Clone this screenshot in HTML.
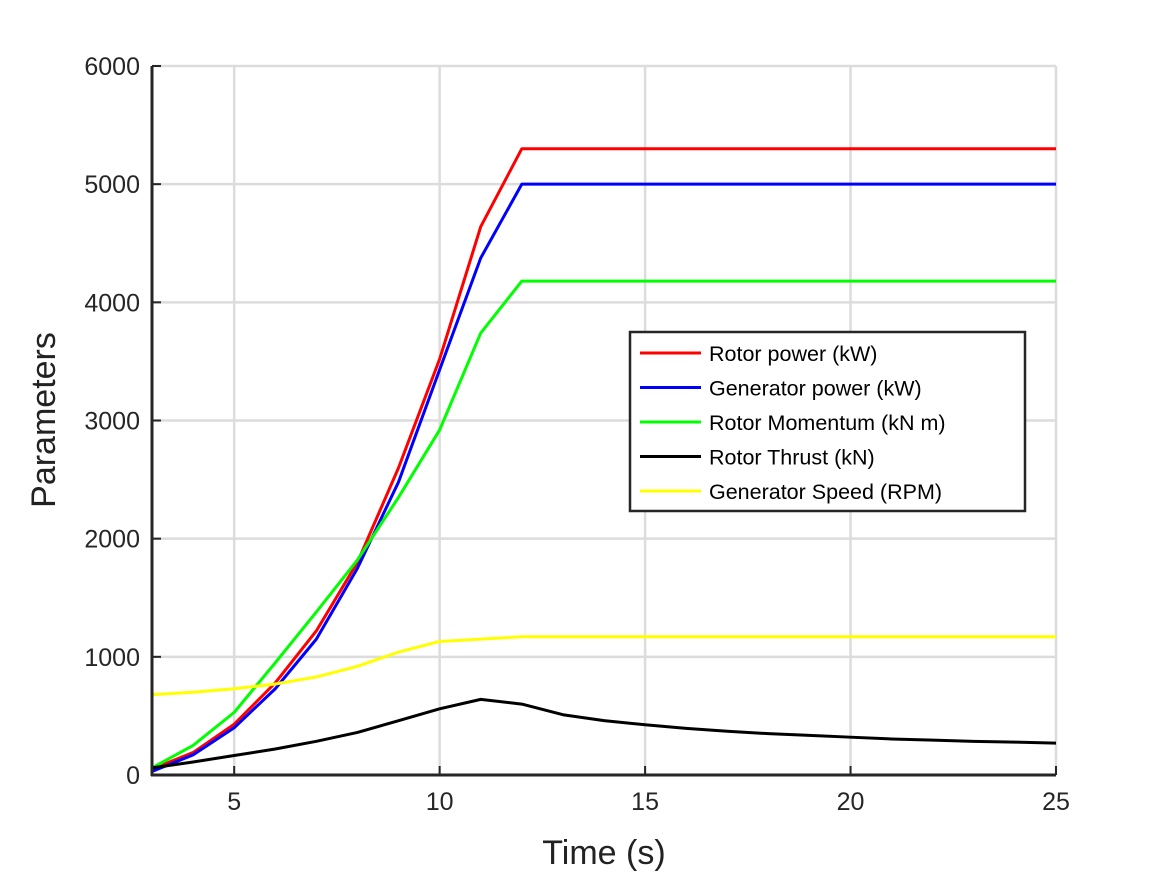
<!DOCTYPE html>
<html><head><meta charset="utf-8"><style>
body{margin:0;background:#fff}
svg{display:block;font-family:"Liberation Sans",Arial,sans-serif}
</style></head><body>
<svg id="chart" width="1167" height="875" viewBox="0 0 1167 875" xmlns="http://www.w3.org/2000/svg">
<g id="grid"></g>
<g id="series"></g>
<g id="axes"></g>
<text x="604" y="864" font-size="34" text-anchor="middle" fill="#222">Time (s)</text>
<text x="55" y="420" font-size="34" text-anchor="middle" fill="#222" transform="rotate(-90 55 420)">Parameters</text>
<g id="legend"></g>
</svg>
<script>
const times = [3,4,5,6,7,8,9,10,11,12,13,14,15,16,17,18,19,20,21,22,23,24,25];
const rotorPower = [50,190,430,780,1220,1800,2600,3520,4640,5300,5300,5300,5300,5300,5300,5300,5300,5300,5300,5300,5300,5300,5300];
const genPower = [30,170,400,730,1150,1750,2480,3430,4375,5000,5000,5000,5000,5000,5000,5000,5000,5000,5000,5000,5000,5000,5000];
const rotorMomentum = [60,250,530,950,1380,1820,2350,2920,3740,4180,4180,4180,4180,4180,4180,4180,4180,4180,4180,4180,4180,4180,4180];
const rotorThrust = [60,110,165,220,285,360,460,560,640,600,510,460,425,395,370,350,335,320,305,295,285,278,270];
const genSpeed = [680,700,730,770,830,920,1040,1130,1150,1170,1170,1170,1170,1170,1170,1170,1170,1170,1170,1170,1170,1170,1170];
const xTicks = [5,10,15,20,25];
const yTicks = [0,1000,2000,3000,4000,5000,6000];
const seriesNames = ["Rotor power (kW)","Generator power (kW)","Rotor Momentum (kN m)","Rotor Thrust (kN)","Generator Speed (RPM)"];
const seriesKeys = ["rotor-power","generator-power","rotor-momentum","rotor-thrust","generator-speed"];

const NS="http://www.w3.org/2000/svg";
const L=152,R=1056,T=66,B=775,xMin=3,xMax=25,yMin=0,yMax=6000;
const sx=v=>L+(v-xMin)/(xMax-xMin)*(R-L);
const sy=v=>B-(v-yMin)/(yMax-yMin)*(B-T);
function mk(tag,attrs,parent){const e=document.createElementNS(NS,tag);for(const k in attrs)e.setAttribute(k,attrs[k]);parent.appendChild(e);return e;}
const grid=document.getElementById('grid'),axes=document.getElementById('axes'),ser=document.getElementById('series'),leg=document.getElementById('legend');
xTicks.forEach(t=>{
  const g=mk('line',{x1:sx(t),x2:sx(t),y1:T,y2:B,stroke:'#dcdcdc','stroke-width':2.5},grid);
  
  
  const tk=mk('line',{x1:sx(t),x2:sx(t),y1:B,y2:B-9,stroke:'#262626','stroke-width':2},axes);
  
  
  const lb=mk('text',{x:sx(t),y:B+35,'font-size':25,'text-anchor':'middle',fill:'#262626'},axes);
  lb.textContent=t;
  
  
});
yTicks.forEach(t=>{
  const g=mk('line',{x1:L,x2:R,y1:sy(t),y2:sy(t),stroke:'#dcdcdc','stroke-width':2.5},grid);
  
  
  const tk=mk('line',{x1:L,x2:L+9,y1:sy(t),y2:sy(t),stroke:'#262626','stroke-width':2},axes);
  
  
  const lb=mk('text',{x:L-12,y:sy(t)+9,'font-size':25,'text-anchor':'end',fill:'#262626'},axes);
  lb.textContent=t;
  
  
});
const xa=mk('line',{x1:L-1,x2:R,y1:B,y2:B,stroke:'#262626','stroke-width':3},axes);


const ya=mk('line',{x1:L,x2:L,y1:T,y2:B+1,stroke:'#262626','stroke-width':3},axes);


const data=[rotorPower,genPower,rotorMomentum,rotorThrust,genSpeed];
const colors=['#ff0000','#0000ff','#00ff00','#000000','#ffff00'];
data.forEach((d,i)=>{
  const p=mk('polyline',{points:times.map((t,j)=>sx(t)+','+sy(d[j])).join(' '),fill:'none',stroke:colors[i],'stroke-width':3,'stroke-linejoin':'round'},ser);
  
  
});
const box=mk('rect',{x:630,y:332,width:395,height:179,fill:'#fff',stroke:'#262626','stroke-width':2.5},leg);


seriesNames.forEach((n,i)=>{
  const y=353+i*34.5;
  const g=mk('g',{},leg);
  
  
  mk('line',{x1:640,x2:701,y1:y,y2:y,stroke:colors[i],'stroke-width':3},g);
  const t=mk('text',{x:709,y:y+8,'font-size':21.5,fill:'#000'},g);
  t.textContent=n;
});
</script>
</body></html>
